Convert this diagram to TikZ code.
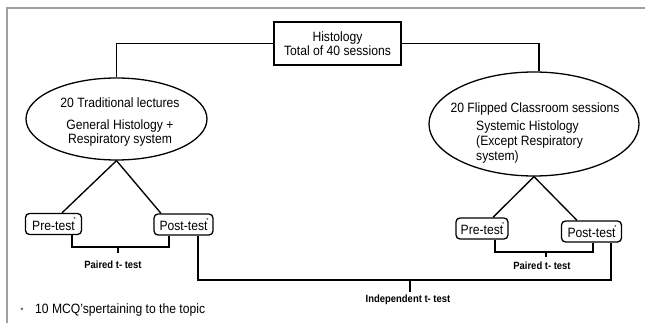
\documentclass[tikz,border=0pt]{standalone}
\usepackage{fontspec}
\setmainfont{Liberation Sans}[FakeStretch=0.9]
\usetikzlibrary{shapes.geometric,calc}
\newcommand{\tstar}{\makebox[0pt][r]{\raisebox{0.62em}{\fontsize{6}{6}\selectfont *}\kern-1pt}}
\begin{document}
\begin{tikzpicture}[x=1pt,y=-1pt,
  every node/.style={font=\fontsize{13.5}{14}\selectfont, inner sep=0pt},
  conn/.style={line width=1.35pt},
  sq/.style={draw, line width=1.4pt, minimum width=127pt, minimum height=43pt, align=center},
  oval/.style={draw, ellipse, line width=1.3pt},
  testbox/.style={draw, rounded corners=4pt, line width=1.3pt, minimum height=21pt},
  lbl/.style={font=\bfseries\fontsize{10.5}{12}\selectfont}]
\useasboundingbox (0,0) rectangle (645,323);
\fill[white] (0,0) rectangle (645,323);
\draw[gray!75, line width=2pt] (7,323) -- (7,8) -- (645,8);

\node[sq] (top) at (337.5,43.5) {Histology\\Total of 40 sessions};

\node[oval, minimum width=181pt, minimum height=82pt] (L) at (116.5,119) {};
\node[align=center] (Lt) at (120,122) {20 Traditional lectures\\[8pt]General Histology +\\Respiratory system};

\node[oval, minimum width=210pt, minimum height=104pt] (R) at (534,124) {};
\node (Rt1) at (535,109) {20 Flipped Classroom sessions};
\node[align=left, anchor=west, font=\fontsize{13.5}{15}\selectfont] (Rt2) at (476,142) {Systemic Histology\\(Except Respiratory\\system)};

\node[testbox, minimum width=56pt] (P1) at (53.5,224) {Pre-test\tstar};
\node[testbox, minimum width=59pt] (Q1) at (183.5,224.5) {Post-test\tstar};
\node[testbox, minimum width=52pt] (P2) at (482,228.5) {Pre-test\tstar};
\node[testbox, minimum width=60pt] (Q2) at (591.5,231.5) {Post-test\tstar};

\draw[conn] (top.west) -| (L.north);
\draw[conn] (top.east) -| ($(R.north)+(5,0)$);

\draw[conn] (L.south) -- ($(P1.north)+(8.5,0)$);
\draw[conn] (L.south) -- ($(Q1.north)+(-22.5,0)$);
\draw[conn] (R.south) -- ($(P2.north)+(11,0)$);
\draw[conn] (R.south) -- ($(Q2.north)+(-14.5,0)$);

\coordinate (pa1) at (118,247);
\draw[conn] ($(P1.south)+(18.5,0)$) |- (pa1) -| ($(Q1.south)+(-14.5,0)$);
\draw[conn] (pa1) -- ++(0,6);
\coordinate (pa2) at (546,252);
\draw[conn] ($(P2.south)+(13,0)$) |- (pa2) -| ($(Q2.south)+(1.5,0)$);
\draw[conn] (pa2) -- ++(0,5);
\coordinate (ind) at (410,280);
\draw[conn] ($(Q1.south)+(14.5,0)$) |- (ind) -| ($(Q2.south)+(19.5,0)$);
\draw[conn] (ind) -- ++(0,12);

\node[lbl] (PL1) at (113,265) {Paired t- test};
\node[lbl] (PL2) at (542,266) {Paired t- test};
\node[lbl] (IL) at (408,300) {Independent t- test};

\node (bul) at (22,311) {\fontsize{8}{8}\selectfont *};
\node[anchor=west] (note) at (35,310) {10 MCQ'spertaining to the topic};
\end{tikzpicture}
\end{document}
